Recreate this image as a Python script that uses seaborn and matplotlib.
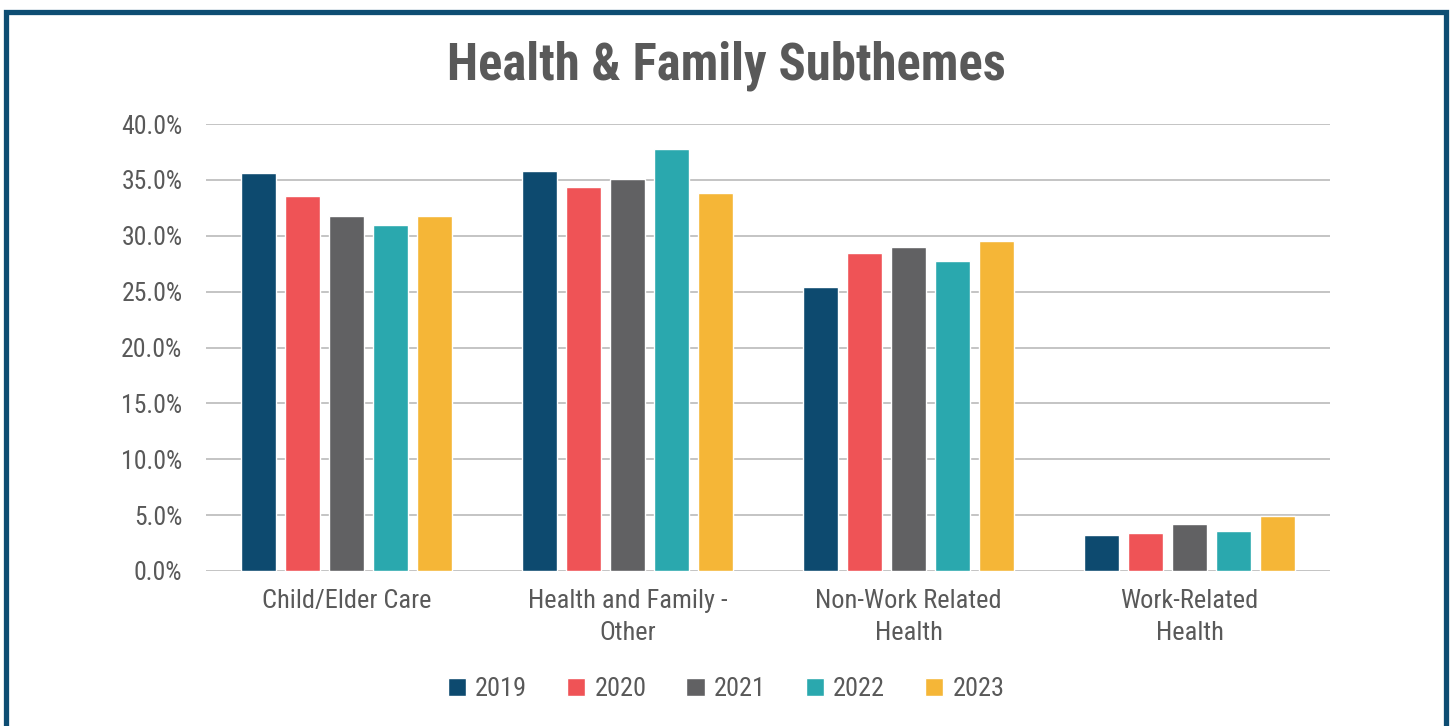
import matplotlib
matplotlib.use("Agg")
import matplotlib.pyplot as plt
from matplotlib import font_manager
from matplotlib.patches import Rectangle
import seaborn as sns
import pandas as pd

# Share of health & family comments by subtheme and year (percent)
categories = ["Child/Elder Care", "Health and Family -\nOther",
              "Non-Work Related\nHealth", "Work-Related\nHealth"]
years = ["2019", "2020", "2021", "2022", "2023"]
values_2019 = [35.6, 35.8, 25.4, 3.2]
values_2020 = [33.6, 34.4, 28.5, 3.4]
values_2021 = [31.8, 35.1, 29.0, 4.2]
values_2022 = [31.0, 37.8, 27.7, 3.6]
values_2023 = [31.8, 33.8, 29.5, 4.9]
colors = ["#0d4a6f", "#ef5356", "#616163", "#2aa8ae", "#f5b637"]
y_ticks = [0, 5, 10, 15, 20, 25, 30, 35, 40]

series = [values_2019, values_2020, values_2021, values_2022, values_2023]
rows = []
for yr, vals in zip(years, series):
    for cat, v in zip(categories, vals):
        rows.append({"Subtheme": cat, "Year": yr, "Share": v})
df = pd.DataFrame(rows)

sns.set_theme(style="white")
available = {f.name for f in font_manager.fontManager.ttflist}
narrow = "Roboto Condensed" if "Roboto Condensed" in available else "Roboto"
plt.rcParams["font.family"] = [narrow, "DejaVu Sans"]

text_grey = "#595959"
fig = plt.figure(figsize=(14.52, 7.26), dpi=100)
fig.patch.set_facecolor("white")
ax = fig.add_axes([206 / 1452, 1 - 571 / 726, (1330 - 206) / 1452, (571 - 124) / 726])

sns.barplot(data=df, x="Subtheme", y="Share", hue="Year", hue_order=years,
            order=categories, palette=colors, width=0.78, gap=0.2,
            saturation=1, ax=ax, legend=True)

ax.set_ylim(0, 40)
ax.set_yticks(y_ticks)
ax.set_yticklabels([f"{t:.1f}%" for t in y_ticks])
ax.yaxis.grid(True, color="#c4c4c4", linewidth=1.4)
ax.set_axisbelow(True)
for s in ax.spines.values():
    s.set_visible(False)
ax.set_xlabel("")
ax.set_ylabel("")
ax.tick_params(axis="y", length=0, pad=17, labelsize=18.5, labelcolor=text_grey)
ax.tick_params(axis="x", length=0, pad=13, labelsize=19, labelcolor=text_grey)
for lab in ax.get_xticklabels():
    lab.set_linespacing(1.42)
    lab.set_verticalalignment("top")

leg = ax.legend(loc="center", bbox_to_anchor=(0.5, 1 - 689 / 726),
                bbox_transform=fig.transFigure, ncol=5, frameon=False,
                handlelength=0.7, handleheight=0.7, handletextpad=0.35,
                columnspacing=1.5, fontsize=19)
for t in leg.get_texts():
    t.set_color(text_grey)

fig.text(0.5, 1 - 66 / 726, "Health & Family Subthemes", ha="center", va="center",
         fontsize=36.5, fontweight="bold", color=text_grey)

# Dark blue frame around the chart
fig.patches.append(Rectangle((5.5 / 1452, -0.05), (1446 - 5.5) / 1452, 1.05 - 12.5 / 726,
                             transform=fig.transFigure, fill=False,
                             edgecolor="#0d4d73", linewidth=3.8))

fig.savefig("out.png", dpi=100, facecolor="white")
